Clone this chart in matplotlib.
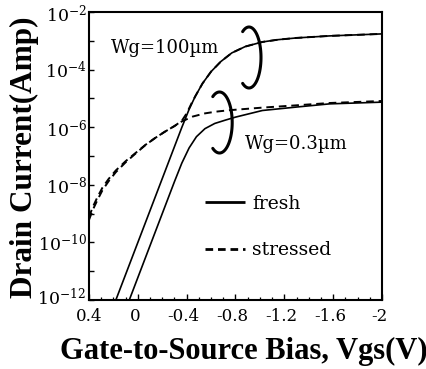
import numpy as np
import matplotlib
matplotlib.use('Agg')
import matplotlib.pyplot as plt
from matplotlib.transforms import ScaledTranslation
from matplotlib.ticker import MultipleLocator, NullLocator

plt.rcParams['font.family'] = ['DejaVu Serif']
plt.rcParams['mathtext.fontset'] = 'dejavuserif'
plt.rcParams['lines.scale_dashes'] = False

# ---------------- data (Vgs in V, log10 of drain current in A) ----------------
vgs_fresh_100 = [0.18, -0.36, -0.42, -0.47, -0.53, -0.60, -0.68, -0.77, -0.88,
                 -1.02, -1.15, -1.30, -1.57, -2.0]
logid_fresh_100 = [-12.0, -6.01, -5.38, -4.93, -4.48, -4.07, -3.72, -3.42, -3.20,
                   -3.04, -2.96, -2.90, -2.83, -2.76]

vgs_fresh_03 = [0.07, -0.30, -0.36, -0.42, -0.48, -0.55, -0.63, -0.72, -0.80,
                -1.02, -1.30, -1.57, -2.0]
logid_fresh_03 = [-12.0, -7.89, -7.25, -6.72, -6.33, -6.05, -5.87, -5.75, -5.65,
                  -5.42, -5.30, -5.19, -5.13]

vgs_stress_100 = [0.40, 0.37, 0.33, 0.29, 0.24, 0.18, 0.10, 0.02, -0.06, -0.14,
                  -0.22, -0.30, -0.36, -0.40, -0.44, -0.47, -0.53, -0.60, -0.68,
                  -0.77, -0.88, -1.02, -1.15, -1.30, -1.57, -2.0]
logid_stress_100 = [-9.12, -8.78, -8.42, -8.10, -7.80, -7.50, -7.18, -6.90, -6.62, -6.38,
                    -6.16, -5.96, -5.78, -5.52, -5.17, -4.93, -4.48, -4.07, -3.72,
                    -3.42, -3.20, -3.04, -2.96, -2.90, -2.83, -2.76]

vgs_stress_03 = [0.40, 0.37, 0.33, 0.29, 0.24, 0.18, 0.10, 0.02, -0.06, -0.14,
                 -0.22, -0.30, -0.36, -0.45, -0.55, -0.64, -0.75, -0.81, -1.02,
                 -1.30, -1.57, -2.0]
logid_stress_03 = [-9.22, -8.88, -8.52, -8.19, -7.88, -7.56, -7.22, -6.92, -6.63, -6.38,
                   -6.16, -5.96, -5.80, -5.63, -5.52, -5.46, -5.41, -5.39, -5.32,
                   -5.24, -5.16, -5.09]

xticks = [0.4, 0.0, -0.4, -0.8, -1.2, -1.6, -2.0]
xtick_labels = ['0.4', '0', '-0.4', '-0.8', '-1.2', '-1.6', '-2']
ytick_exps = [-12, -11, -10, -9, -8, -7, -6, -5, -4, -3, -2]
legend_labels = ['fresh', 'stressed']
label_100 = 'Wg=100\u00b5m'
label_03 = 'Wg=0.3\u00b5m'
xlabel = 'Gate-to-Source Bias, Vgs(V)'
ylabel = 'Drain Current(Amp)'

# ---------------- figure ----------------
W, H = 427, 369
fig = plt.figure(figsize=(W / 100, H / 100), dpi=100)
AX_L, AX_R, AX_T, AX_B = 89, 382, 12, 300
ax = fig.add_axes([AX_L / W, 1 - AX_B / H, (AX_R - AX_L) / W, (AX_B - AX_T) / H])
ax.set_yscale('log')

solid = dict(color='black', lw=1.2, ls='-', solid_capstyle='butt')
dashed = dict(color='black', lw=1.4, ls=(0, (5.5, 3.5)), dash_capstyle='butt')

h_fresh, = ax.plot(vgs_fresh_100, np.power(10.0, logid_fresh_100), **solid)
ax.plot(vgs_fresh_03, np.power(10.0, logid_fresh_03), **solid)
h_stress, = ax.plot(vgs_stress_100, np.power(10.0, logid_stress_100), **dashed)
ax.plot(vgs_stress_03, np.power(10.0, logid_stress_03), **dashed)

ax.set_xlim(0.4, -2.0)
ax.set_ylim(1e-12, 1e-2)

# ticks
ax.set_xticks(xticks)
ax.set_xticklabels(xtick_labels)
ax.xaxis.set_minor_locator(MultipleLocator(0.1))
yt = [10.0 ** e for e in ytick_exps]
ax.set_yticks(yt)
ax.set_yticklabels([r'$10^{%d}$' % e if e % 2 == 0 else '' for e in ytick_exps])
ax.yaxis.set_minor_locator(NullLocator())
ax.tick_params(axis='x', which='major', direction='in', length=4.5, width=1.0,
               labelsize=12, pad=6, top=False)
ax.tick_params(axis='x', which='minor', direction='in', length=2.3, width=0.9, top=False)
ax.tick_params(axis='y', which='major', direction='in', length=3.5, width=1.0,
               labelsize=12.5, pad=1.5, right=False)
for s in ax.spines.values():
    s.set_linewidth(1.5)

off_x = ScaledTranslation(-3.0 / 100, 0, fig.dpi_scale_trans)
for i, lbl in enumerate(ax.get_xticklabels()):
    if i > 0:
        lbl.set_transform(lbl.get_transform() + off_x)
off_y = ScaledTranslation(-1.0 / 100, 4.0 / 100, fig.dpi_scale_trans)
ax.get_yticklabels()[0].set_transform(ax.get_yticklabels()[0].get_transform() + off_y)

# annotations
def px_to_ax(px, py):
    return (px - AX_L) / (AX_R - AX_L), (AX_B - py) / (AX_B - AX_T)

tx, ty = px_to_ax(165, 48)
ax.text(tx, ty, label_100, transform=ax.transAxes, ha='center', va='center', fontsize=13)
tx, ty = px_to_ax(296.5, 144)
ax.text(tx, ty, label_03, transform=ax.transAxes, ha='center', va='center', fontsize=13)

def bracket(cx, cy, rx, ry):
    t = np.radians(np.linspace(-122, 122, 80))
    xs = cx + rx * np.cos(t)
    ys = cy - ry * np.sin(t)
    fx, fy = px_to_ax(xs, ys)
    ax.plot(fx, fy, transform=ax.transAxes, color='black', lw=2.2,
            solid_capstyle='round', clip_on=False)

bracket(249, 57.5, 12, 30.5)
bracket(219.5, 122.5, 12.7, 30.5)

# legend
lx, ly = px_to_ax(205, 195)
leg = ax.legend([h_fresh, h_stress], legend_labels, loc='upper left',
                bbox_to_anchor=(lx, ly), frameon=False, fontsize=13.5,
                handlelength=2.15, handletextpad=0.35, labelspacing=1.5,
                borderpad=0, borderaxespad=0)
for line in leg.get_lines():
    line.set_linewidth(2.0)

# axis labels
fig.text(243.5 / W, 1 - 359 / H, xlabel, ha='center', va='baseline',
         family='Liberation Serif', fontweight='bold', fontsize=22)
fig.text(24 / W, 1 - 157.5 / H, ylabel, ha='center', va='center', rotation=90,
         family='Liberation Serif', fontweight='bold', fontsize=22.5)

fig.savefig('out.png', dpi=100)
